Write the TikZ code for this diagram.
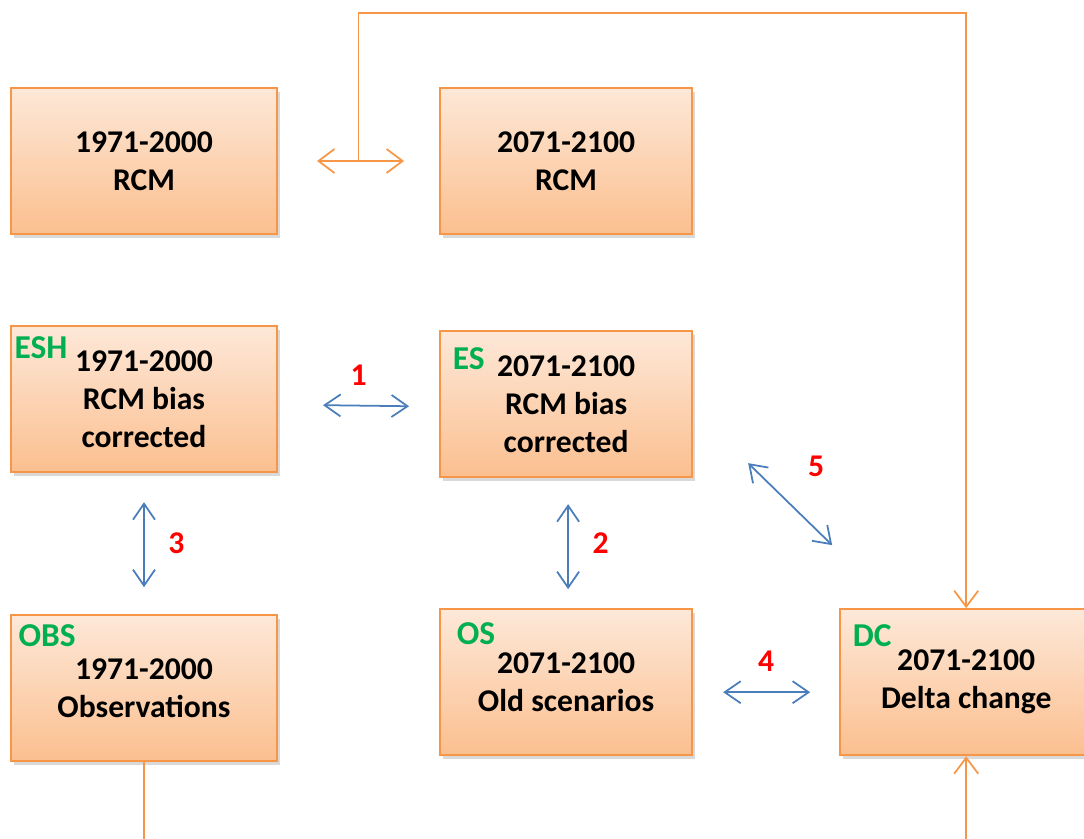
\documentclass[tikz,border=0pt]{standalone}
\usepackage{fontspec}
\setmainfont{Carlito}
\usetikzlibrary{arrows.meta, calc, positioning, shadows}
\definecolor{offorange}{HTML}{F79646}
\definecolor{peachtop}{HTML}{FDE8D8}
\definecolor{peachbot}{HTML}{FBBF8F}
\definecolor{offblue}{HTML}{4A7EBB}
\definecolor{offgreen}{HTML}{00B050}

\begin{document}
\begin{tikzpicture}[box/.style={draw=offorange, line width=0.6pt, top color=peachtop, bottom color=peachbot, minimum height=1.46cm, align=center, font=\bfseries\fontsize{9}{10.8}\selectfont, drop shadow={shadow xshift=0.03cm, shadow yshift=-0.04cm, opacity=0.3}}, wide/.style={box, minimum width=2.66cm}, narrow/.style={box, minimum width=2.52cm}, tag/.style={text=offgreen, inner sep=0pt, font=\bfseries\fontsize{9.5}{11.4}\selectfont}, num/.style={text=red, inner sep=1pt, font=\bfseries\fontsize{9}{10.8}\selectfont}, link/.style={draw=offblue, line width=0.5pt, {Straight Barb[length=1.6mm, width=2.2mm]}-{Straight Barb[length=1.6mm, width=2.2mm]}}, feed/.style={draw=offorange, line width=0.5pt}]
				\useasboundingbox (0,0) rectangle (10.84,8.39);
				
				\node[wide] (rcma) at (1.44,6.78) {1971-2000\\RCM};
				\node[narrow, right = 1.61cm of rcma] (rcmb) {2071-2100\\RCM};
				
				\node[wide, below = 0.90cm of rcma] (esh) {1971-2000\\RCM bias\\corrected};
				\node[tag, below right = 0.11cm and 0.04cm of esh.north west] {ESH};
				
				\node[narrow, below = 0.95cm of rcmb] (es) {2071-2100\\RCM bias\\corrected};
				\node[tag, below right = 0.17cm and 0.13cm of es.north west] {ES};
				
				\node[wide, below = 1.41cm of esh] (obs) {1971-2000\\Observations};
				\node[tag, below right = 0.10cm and 0.08cm of obs.north west] {OBS};
				
				\node[narrow, below = 1.30cm of es] (os) {2071-2100\\Old scenarios};
				\node[tag, below right = 0.14cm and 0.17cm of os.north west] {OS};
				
				\node[narrow, right = 1.46cm of os] (dc) {2071-2100\\Delta change};
				\node[tag, below right = 0.16cm and 0.13cm of dc.north west] {DC};
				
				\draw[feed, {Straight Barb[length=1.6mm, width=2.4mm]}-{Straight Barb[length=1.6mm, width=2.4mm]}, shorten <=0.39cm, shorten >=0.35cm] (rcma.east) -- (rcmb.west);
				\draw[feed, -{Straight Barb[length=1.6mm, width=2.4mm]}] ($(rcma.east)!0.5!(rcmb.west)$) -- ++(0,1.48) -| (dc.north);
				\draw[feed, -{Straight Barb[length=1.6mm, width=2.4mm]}] (obs.south) -- ++(0,-1.2) -| (dc.south);
				
				\draw[link, shorten <=0.45cm, shorten >=0.30cm] ([yshift=-0.055cm]esh.east) -- node[num, above=0.16cm]{1} ([yshift=-0.025cm]es.west);
				\draw[link, shorten <=0.26cm, shorten >=0.19cm] ([xshift=0.02cm]es.south) -- node[num, right=0.2cm]{2} ([xshift=0.02cm]os.north);
				\draw[link, shorten <=0.29cm, shorten >=0.27cm] (esh.south) -- node[num, right=0.2cm]{3} (obs.north);
				\draw[link, shorten <=0.30cm, shorten >=0.29cm] ([yshift=-0.10cm]os.east) -- node[num, above=0.16cm]{4} ([yshift=-0.10cm]dc.west);
				\draw[link] ([shift={(0.55,0.15)}]es.south east) -- node[num, xshift=0.26cm, yshift=0.38cm]{5} ([shift={(-0.07,0.63)}]dc.north west);
				
				\end{tikzpicture}
\end{document}
